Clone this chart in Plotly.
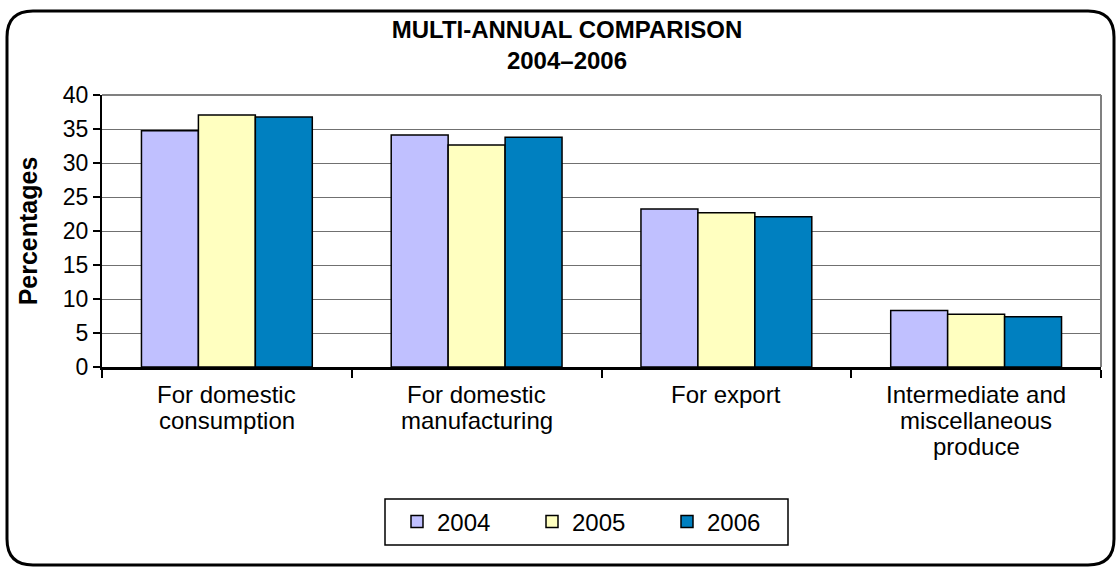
import plotly.graph_objects as go

categories = ["For domestic<br>consumption", "For domestic<br>manufacturing", "For export",
              "Intermediate and<br>miscellaneous<br>produce"]
years = ["2004", "2005", "2006"]
values_2004 = [34.75, 34.1, 23.25, 8.3]
values_2005 = [37.05, 32.65, 22.7, 7.75]
values_2006 = [36.75, 33.8, 22.1, 7.4]
colors = ["#C0C0FF", "#FFFFC0", "#0080C0"]
y_ticks = [0, 5, 10, 15, 20, 25, 30, 35, 40]
title_text = "MULTI-ANNUAL COMPARISON<br>2004–2006"
y_title = "Percentages"

W, H = 1117, 567
L, R, T, B = 102, 1101, 95, 367
FONT = "Arial, Liberation Sans, sans-serif"


def px(x):
    return (x - L) / (R - L)


def py(y):
    return (B - y) / (B - T)


fig = go.Figure()
for name, vals, col in zip(years, [values_2004, values_2005, values_2006], colors):
    fig.add_trace(go.Bar(
        x=categories, y=vals, name=name,
        marker=dict(color=col, line=dict(color="black", width=1.5)),
    ))

# rounded outer border
x0, x1, y0, y1, r = 7, 1114, 11, 565, 26
path = (f"M {px(x0+r)} {py(y0)} L {px(x1-r)} {py(y0)} "
        f"Q {px(x1)} {py(y0)} {px(x1)} {py(y0+r)} "
        f"L {px(x1)} {py(y1-r)} Q {px(x1)} {py(y1)} {px(x1-r)} {py(y1)} "
        f"L {px(x0+r)} {py(y1)} Q {px(x0)} {py(y1)} {px(x0)} {py(y1-r)} "
        f"L {px(x0)} {py(y0+r)} Q {px(x0)} {py(y0)} {px(x0+r)} {py(y0)} Z")

annotations = []
# category labels, one annotation per line for tight line spacing
for cat in categories:
    for j, line in enumerate(cat.split("<br>")):
        annotations.append(dict(
            x=cat, xref="x", y=py(394 + 26 * j), yref="paper",
            text=line, showarrow=False, xanchor="center", yanchor="middle",
            font=dict(size=24, family=FONT, color="black")))

fig.update_layout(
    width=W, height=H,
    margin=dict(l=L, r=W - R, t=T, b=H - B),
    paper_bgcolor="white", plot_bgcolor="white",
    font=dict(family=FONT, size=24, color="black"),
    title=dict(text=f"<b>{title_text}</b>",
               x=567 / W, xref="container", xanchor="center",
               y=1 - 38 / H, yref="container", yanchor="middle",
               font=dict(size=24)),
    barmode="group", bargap=0.316, bargroupgap=0,
    showlegend=True,
    legend=dict(orientation="h", x=px(397), y=py(522), xanchor="left", yanchor="middle",
                borderwidth=0, bgcolor="rgba(0,0,0,0)",
                font=dict(size=24), entrywidth=90, entrywidthmode="pixels",
                traceorder="normal"),
    annotations=annotations,
    shapes=[
        dict(type="path", xref="paper", yref="paper", path=path,
             line=dict(color="black", width=3), layer="above"),
        dict(type="rect", xref="paper", yref="paper", x0=px(385), x1=px(788),
             y0=py(499), y1=py(545), line=dict(color="black", width=1.5)),
        dict(type="line", xref="paper", yref="paper", x0=0, x1=1, y0=1, y1=1,
             line=dict(color="#808080", width=2)),
        dict(type="line", xref="paper", yref="paper", x0=1, x1=1, y0=0, y1=1,
             line=dict(color="#808080", width=2)),
    ],
)

fig.update_yaxes(range=[0, 40], tickvals=y_ticks, showgrid=True, gridcolor="#707070",
                 gridwidth=1, showline=True, linecolor="black", linewidth=2,
                 ticks="outside", ticklen=7, tickcolor="black", tickwidth=1.5,
                 tickfont=dict(size=23), zeroline=False,
                 title=dict(text=f"<b>{y_title}</b>", font=dict(size=25), standoff=18))
fig.update_xaxes(showline=True, linecolor="black", linewidth=2.5,
                 ticks="outside", tickson="boundaries", ticklen=8, tickcolor="black",
                 tickwidth=1.5, showticklabels=False, showgrid=False)

fig.write_html("out.html", config={"displayModeBar": False},
               post_script="document.body.style.margin='0';")
